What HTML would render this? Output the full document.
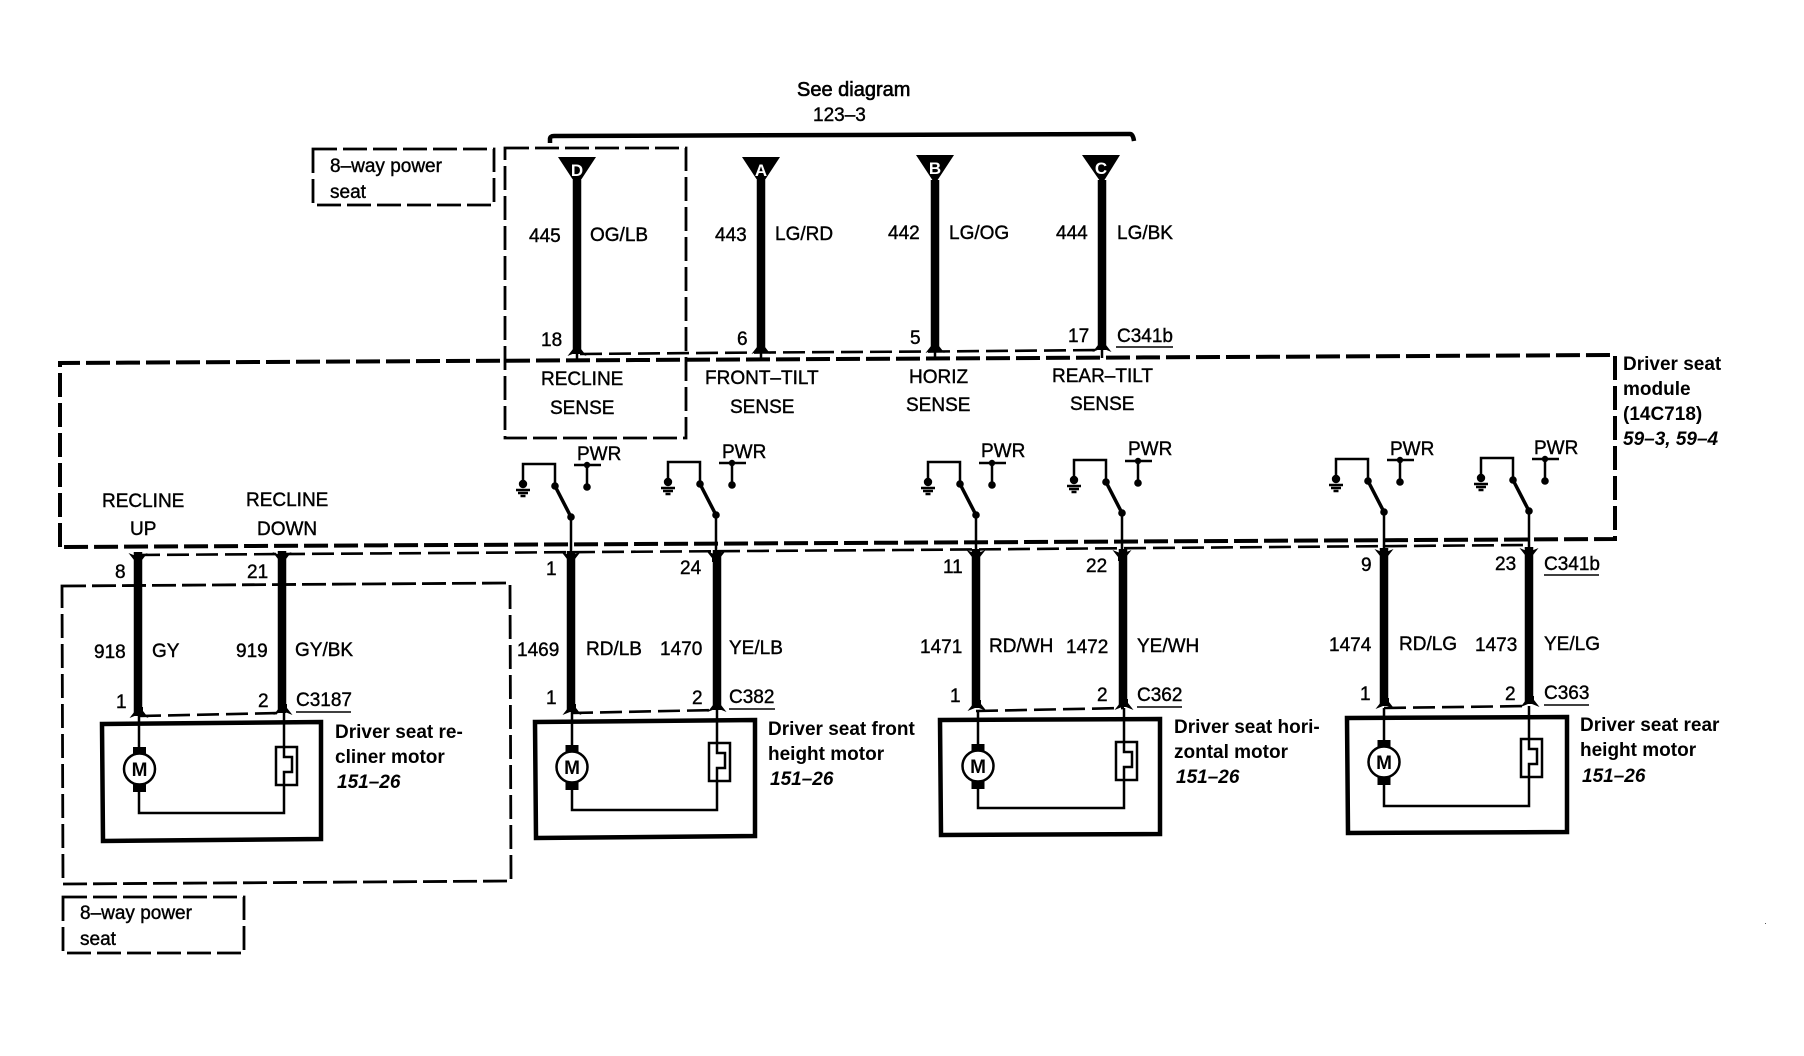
<!DOCTYPE html>
<html>
<head>
<meta charset="utf-8">
<style>
html,body{margin:0;padding:0;background:#fff}
svg{display:block}
text{font-family:"Liberation Sans",sans-serif;font-size:19px;fill:#000;stroke:#000;stroke-width:.4}
.b{font-weight:bold;stroke-width:0}
.i{font-weight:bold;font-style:italic;stroke-width:0}
.w{fill:#fff;stroke:none;font-weight:bold;font-size:17px;text-anchor:middle}
.m{font-weight:bold;font-size:19px;text-anchor:middle;stroke-width:0}
.t{fill:none;stroke:#000;stroke-width:8.5}
.n{fill:none;stroke:#000;stroke-width:2.5}
.x{fill:none;stroke:#000;stroke-width:4.5}
.d1{fill:none;stroke:#000;stroke-width:4;stroke-dasharray:24 6}
.d2{fill:none;stroke:#000;stroke-width:2.8;stroke-dasharray:24 6}
.d3{fill:none;stroke:#000;stroke-width:2.6;stroke-dasharray:22 7}
.u{fill:none;stroke:#000;stroke-width:1.5}
</style>
</head>
<body>
<svg xmlns="http://www.w3.org/2000/svg" width="1804" height="1056" viewBox="0 0 1804 1056">
<defs>
<g id="sw">
<path class="n" d="M0 20V0H32V22"/>
<path d="M32 22L48 53" fill="none" stroke="#000" stroke-width="3.5"/>
<circle cx="32" cy="22" r="3.8"/><circle cx="48" cy="53" r="3.8"/>
<circle cx="0" cy="20" r="4.2"/>
<path class="n" d="M-7 26h14M-5 29h10M-2.5 32h5"/>
<path class="n" d="M51 1h27M64 1V23"/>
<circle cx="64" cy="1" r="3.2"/><circle cx="64" cy="23" r="3.8"/>
</g>
<g id="mo">
<rect x="-6.5" y="-22" width="13" height="8"/>
<rect x="-6.5" y="14" width="13" height="9"/>
<ellipse cx="0" cy="0" rx="15.5" ry="15.5" fill="#fff" stroke="#000" stroke-width="2.5"/>
</g>
<g id="th">
<rect x="-8" y="0" width="21" height="38" fill="#fff" stroke="#000" stroke-width="2.5"/>
<path class="n" d="M0 0V10H8V25H0V38"/>
</g>
<path id="au" d="M-9.5 2L-4 -5V-9H4V-5L9.5 2L2 -1H-2Z"/>
<path id="ad" d="M-9.5 -2L-4 5V9H4V5L9.5 -2L2 1H-2Z"/>
</defs>
<rect width="1804" height="1056" fill="#fff"/>

<!-- Top bus -->
<path d="M550 143V139Q550 136 554 136L1130 134Q1133 134 1134 141" fill="none" stroke="#000" stroke-width="4.5"/>
<text x="797" y="96" style="font-size:20px;stroke-width:.6">See diagram</text>
<text x="813" y="121">123–3</text>

<!-- 8-way boxes -->
<rect class="d2" x="313" y="149" width="181" height="56"/>
<text x="330" y="172">8–way power</text>
<text x="330" y="198">seat</text>
<path class="d2" stroke-width="2.4" d="M505 148H686V438H505Z"/>

<rect class="d2" x="63" y="897" width="181" height="56"/>
<text x="80" y="919">8–way power</text>
<text x="80" y="945">seat</text>
<path class="d2" d="M62 586L510 583L511 881L63 884Z"/>

<!-- Module -->
<path class="d1" d="M60 547V363L1615 355V539Z"/>

<!-- Thin connectors -->
<path class="d3" d="M580 354L761 352.5L935 351.5L1102 350"/>
<path class="d3" d="M138 555L900 550L1528 545"/>
<path class="d3" d="M139 716L282 713"/>
<path class="d3" d="M571 713L717 710"/>
<path class="d3" d="M976 711L1124 708"/>
<path class="d3" d="M1384 708L1529 706"/>

<!-- Triangles -->
<path d="M558 157H596L577 186Z"/><text class="w" x="577" y="176">D</text>
<path d="M742 157H780L761 186Z"/><text class="w" x="761" y="176">A</text>
<path d="M916 155H954L935 184Z"/><text class="w" x="935" y="174">B</text>
<path d="M1082 155H1120L1102 184Z"/><text class="w" x="1101" y="174">C</text>

<!-- Top wires -->
<path class="t" d="M577 180V354M761 180V352M935 180V351M1102 180V350"/>
<use href="#au" x="577" y="354"/><use href="#au" x="761" y="352"/>
<use href="#au" x="935" y="351"/><use href="#au" x="1102" y="350"/>
<path class="n" d="M577 354V362M761 352V360M935 351V359M1102 350V358"/>

<text x="529" y="242">445</text><text x="590" y="241">OG/LB</text>
<text x="715" y="241">443</text><text x="775" y="240">LG/RD</text>
<text x="888" y="239">442</text><text x="949" y="239">LG/OG</text>
<text x="1056" y="239">444</text><text x="1117" y="239">LG/BK</text>
<text x="541" y="346">18</text><text x="737" y="345">6</text>
<text x="910" y="344">5</text><text x="1068" y="342">17</text>
<text x="1117" y="342">C341b</text><path class="u" d="M1116 347H1173"/>

<!-- Sense labels -->
<text x="541" y="385">RECLINE</text><text x="550" y="414">SENSE</text>
<text x="705" y="384">FRONT–TILT</text><text x="730" y="413">SENSE</text>
<text x="909" y="383">HORIZ</text><text x="906" y="411">SENSE</text>
<text x="1052" y="382">REAR–TILT</text><text x="1070" y="410">SENSE</text>
<text x="102" y="507">RECLINE</text><text x="130" y="535">UP</text>
<text x="246" y="506">RECLINE</text><text x="257" y="535">DOWN</text>

<!-- Module label -->
<text class="b" x="1623" y="370">Driver seat</text>
<text class="b" x="1623" y="395">module</text>
<text class="b" x="1623" y="420">(14C718)</text>
<text class="i" x="1623" y="445">59–3, 59–4</text>

<!-- Switches -->
<use href="#sw" x="523" y="464"/><text x="577" y="460">PWR</text>
<use href="#sw" x="668" y="462"/><text x="722" y="458">PWR</text>
<use href="#sw" x="928" y="462"/><text x="981" y="457">PWR</text>
<use href="#sw" x="1074" y="460"/><text x="1128" y="455">PWR</text>
<use href="#sw" x="1336" y="459"/><text x="1390" y="455">PWR</text>
<use href="#sw" x="1481" y="458"/><text x="1534" y="454">PWR</text>
<path class="n" d="M571 517V555M716 515V553M976 515V552M1122 513V552M1384 512V551M1529 511V550"/>

<!-- Lower thick wires -->
<path class="t" d="M138 552V716M282 551V713M571 551V712M717 550V710M976 549V708M1123 549V707M1384 548V706M1529 547V704"/>
<use href="#ad" x="138" y="555"/><use href="#ad" x="282" y="554"/>
<use href="#ad" x="571" y="554"/><use href="#ad" x="716" y="553"/>
<use href="#ad" x="976" y="552"/><use href="#ad" x="1122" y="552"/>
<use href="#ad" x="1384" y="551"/><use href="#ad" x="1529" y="550"/>
<use href="#au" x="139" y="716"/><use href="#au" x="283" y="713"/>
<use href="#au" x="572" y="713"/><use href="#au" x="717" y="710"/>
<use href="#au" x="977" y="709"/><use href="#au" x="1124" y="708"/>
<use href="#au" x="1385" y="707"/><use href="#au" x="1530" y="705"/>

<!-- Recliner motor -->
<path class="x" d="M102 724L321 722V839L103 841Z"/>
<path class="n" d="M139 716V748M139 790V813H284V713"/>
<use href="#mo" x="139.5" y="769"/><text class="m" x="139.5" y="776">M</text>
<use href="#th" x="284" y="747"/>

<!-- Front height motor -->
<path class="x" d="M535 722L755 720V836L536 838Z"/>
<path class="n" d="M572 712V745M572 788V810H717V710"/>
<use href="#mo" x="572" y="767"/><text class="m" x="572" y="774">M</text>
<use href="#th" x="717" y="743"/>

<!-- Horizontal motor -->
<path class="x" d="M940 720L1160 719V834L941 835Z"/>
<path class="n" d="M978 710V744M978 787V808H1124V708"/>
<use href="#mo" x="978" y="766"/><text class="m" x="978" y="773">M</text>
<use href="#th" x="1124" y="742"/>

<!-- Rear height motor -->
<path class="x" d="M1347 718L1567 717V832L1348 833Z"/>
<path class="n" d="M1384 708V740M1384 784V806H1529V706"/>
<use href="#mo" x="1384" y="762"/><text class="m" x="1384" y="769">M</text>
<use href="#th" x="1529" y="739"/>

<!-- Lower labels -->
<text x="115" y="578">8</text><text x="247" y="578">21</text>
<text x="94" y="658">918</text><text x="152" y="657">GY</text>
<text x="236" y="657">919</text><text x="295" y="656">GY/BK</text>
<text x="116" y="708">1</text><text x="258" y="707">2</text>
<text x="296" y="706">C3187</text><path class="u" d="M296 712H351"/>
<text class="b" x="335" y="738">Driver seat re-</text>
<text class="b" x="335" y="763">cliner motor</text>
<text class="i" x="337" y="788">151–26</text>

<text x="546" y="575">1</text><text x="680" y="574">24</text>
<text x="517" y="656">1469</text><text x="586" y="655">RD/LB</text>
<text x="660" y="655">1470</text><text x="729" y="654">YE/LB</text>
<text x="546" y="704">1</text><text x="692" y="704">2</text>
<text x="729" y="703">C382</text><path class="u" d="M729 709H775"/>
<text class="b" x="768" y="735">Driver seat front</text>
<text class="b" x="768" y="760">height motor</text>
<text class="i" x="770" y="785">151–26</text>

<text x="943" y="573">11</text><text x="1086" y="572">22</text>
<text x="920" y="653">1471</text><text x="989" y="652">RD/WH</text>
<text x="1066" y="653">1472</text><text x="1137" y="652">YE/WH</text>
<text x="950" y="702">1</text><text x="1097" y="701">2</text>
<text x="1137" y="701">C362</text><path class="u" d="M1137 707H1182"/>
<text class="b" x="1174" y="733">Driver seat hori-</text>
<text class="b" x="1174" y="758">zontal motor</text>
<text class="i" x="1176" y="783">151–26</text>

<text x="1361" y="571">9</text><text x="1495" y="570">23</text>
<text x="1544" y="570">C341b</text><path class="u" d="M1544 575H1599"/>
<text x="1329" y="651">1474</text><text x="1399" y="650">RD/LG</text>
<text x="1475" y="651">1473</text><text x="1544" y="650">YE/LG</text>
<text x="1360" y="700">1</text><text x="1505" y="700">2</text>
<text x="1544" y="699">C363</text><path class="u" d="M1544 705H1589"/>
<text class="b" x="1580" y="731">Driver seat rear</text>
<text class="b" x="1580" y="756">height motor</text>
<text class="i" x="1582" y="782">151–26</text>

<rect x="1765" y="923" width="1" height="1" fill="#555"/>
</svg>
</body>
</html>
